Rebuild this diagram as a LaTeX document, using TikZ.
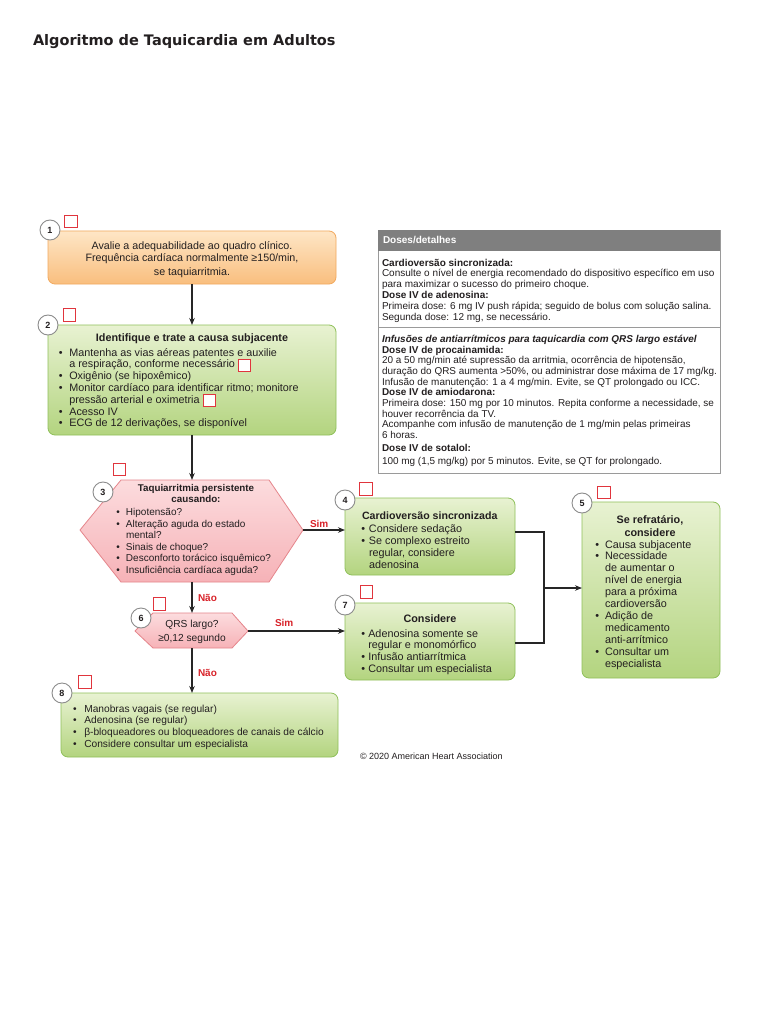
\documentclass[tikz,border=0pt]{standalone}
\usepackage{fontspec}
\setmainfont{Liberation Sans}
\newfontfamily\titlefont{DejaVu Sans}
\usetikzlibrary{arrows.meta}
\definecolor{orTop}{HTML}{FEE6C6}
\definecolor{orBot}{HTML}{F9BE7E}
\definecolor{orBd}{HTML}{F2A95E}
\definecolor{grTop}{HTML}{E8F2D2}
\definecolor{grBot}{HTML}{B3D47F}
\definecolor{grBd}{HTML}{8FC05A}
\definecolor{pkTop}{HTML}{FCDCDE}
\definecolor{pkBot}{HTML}{F6B2B7}
\definecolor{pkBd}{HTML}{E5858B}
\definecolor{sqred}{HTML}{E0353D}
\definecolor{labred}{HTML}{D8232A}
\definecolor{hdgrey}{HTML}{7F7F7F}
\definecolor{frgrey}{HTML}{9A9A9A}
\definecolor{txtc}{HTML}{231F20}
\newlength\bw
\newcommand\bl{\makebox[\bw][l]{•}}
\newcommand\nb{\hspace*{\bw}}
\newcommand\redsq{\smash{\raisebox{-3pt}{\setlength\fboxsep{0pt}\setlength\fboxrule{1pt}\fcolorbox{sqred}{white}{\rule{0pt}{11pt}\rule{11pt}{0pt}}}}}
\newcommand\fs[2]{\fontsize{#1}{#2}\selectfont}
\begin{document}
\begin{tikzpicture}[x=1pt,y=-1pt,
  every node/.style={inner sep=0pt,outer sep=0pt,text=txtc},
  boxbase/.style={draw,rounded corners=7pt,line width=0.8pt},
  obox/.style={boxbase,draw=orBd,top color=orTop,bottom color=orBot},
  gbox/.style={boxbase,draw=grBd,top color=grTop,bottom color=grBot},
  hexa/.style={draw=pkBd,line width=0.8pt,top color=pkTop,bottom color=pkBot,line join=round},
  num/.style={circle,draw=black!45,fill=white,line width=0.9pt,minimum size=20pt,font=\bfseries\fs{9}{9}},
  rsq/.style={draw=sqred,fill=white,line width=1pt,minimum size=12.5pt},
  conn/.style={line width=1.1pt,draw=black!85},
  arr/.style={conn,-{Stealth[length=7pt,width=5.5pt]}},
  lab/.style={text=labred,font=\bfseries\fs{10}{10},anchor=base west},
  tb/.style={anchor=base west},
  tc/.style={anchor=base}]
\fill[white] (0,0) rectangle (768,1024);
\useasboundingbox (0,0) rectangle (768,1024);

% title
\node[tb,font=\titlefont\bfseries\fs{14.5}{16}] (title) at (33,45.5) {Algoritmo de Taquicardia em Adultos};

% boxes
\node[obox,minimum width=288pt,minimum height=53pt,anchor=north west] (b1) at (48,231) {};
\node[gbox,minimum width=288pt,minimum height=110pt,anchor=north west] (b2) at (48,325) {};
\path[hexa] (80,530) -- (121,480) -- (269,480) -- (303,530) -- (269,582) -- (121,582) -- cycle;
\path[hexa] (135,631) -- (153,613) -- (232,613) -- (248,631) -- (232,648) -- (153,648) -- cycle;
\coordinate (h3t) at (192,480);
\coordinate (h3r) at (303,530);
\coordinate (h3b) at (192,582);
\coordinate (h6t) at (192,613);
\coordinate (h6r) at (248,631);
\coordinate (h6b) at (192,648);
\node[gbox,minimum width=170pt,minimum height=77pt,anchor=north west] (b4) at (345,498) {};
\node[gbox,minimum width=170pt,minimum height=77pt,anchor=north west] (b7) at (345,603) {};
\node[gbox,minimum width=138pt,minimum height=176pt,anchor=north west] (b5) at (582,502) {};
\node[gbox,minimum width=277pt,minimum height=64pt,anchor=north west] (b8) at (61,693) {};

% doses box
\node[draw=frgrey,line width=0.8pt,minimum width=342pt,minimum height=243pt,anchor=north west] (db) at (378,230) {};
\node[fill=hdgrey,minimum width=342pt,minimum height=21pt,anchor=north west] (dh) at (378,230) {};
\node[tb,text=white,font=\bfseries\fs{10}{12}] (dht) at (383,243.5) {Doses/detalhes};
\coordinate (dv) at (378,327.5);
\draw[frgrey,line width=0.8pt] (dv) -- (dv -| db.east);
\node[tb,font=\fs{10}{10.85}] (dt1) at (382,266) {\begin{tabular}[t]{@{}l@{}}
\textbf{Cardioversão sincronizada:}\\
Consulte o nível de energia recomendado do dispositivo específico em uso\\
para maximizar o sucesso do primeiro choque.\\
\textbf{Dose IV de adenosina:}\\
Primeira dose: 6 mg IV push rápida; seguido de bolus com solução salina.\\
Segunda dose: 12 mg, se necessário.
\end{tabular}};
\node[tb,font=\fs{9.95}{10.7}] (dt2) at (382,342.3) {\begin{tabular}[t]{@{}l@{}}
\textbf{\textit{Infusões de antiarrítmicos para taquicardia com QRS largo estável}}\\
\textbf{Dose IV de procainamida:}\\
20 a 50 mg/min até supressão da arritmia, ocorrência de hipotensão,\\
duração do QRS aumenta >50\%, ou administrar dose máxima de 17 mg/kg.\\
Infusão de manutenção: 1 a 4 mg/min. Evite, se QT prolongado ou ICC.\\
\textbf{Dose IV de amiodarona:}\\
Primeira dose: 150 mg por 10 minutos. Repita conforme a necessidade, se\\
houver recorrência da TV.\\
Acompanhe com infusão de manutenção de 1 mg/min pelas primeiras\\
6 horas.
\end{tabular}};
\node[tb,font=\fs{9.95}{13}] (dt3) at (382,451.5) {\begin{tabular}[t]{@{}l@{}}
\textbf{Dose IV de sotalol:}\\
100 mg (1,5 mg/kg) por 5 minutos. Evite, se QT for prolongado.
\end{tabular}};

% box texts
\node[tc,font=\fs{10.7}{13}] (t1) at (192,249) {\begin{tabular}[t]{@{}c@{}}
Avalie a adequabilidade ao quadro clínico.\\
Frequência cardíaca normalmente ≥150/min,\\
se taquiarritmia.
\end{tabular}};

\node[tc,font=\bfseries\fs{10.8}{12}] (t2h) at (192,341) {Identifique e trate a causa subjacente};
\node[tb,font=\fs{10.8}{11.8}] (t2) at (58.8,356) {\setlength\bw{10.5pt}\begin{tabular}[t]{@{}l@{}}
\bl Mantenha as vias aéreas patentes e auxilie\\
\nb a respiração, conforme necessário \redsq\\
\bl Oxigênio (se hipoxêmico)\\
\bl Monitor cardíaco para identificar ritmo; monitore\\
\nb pressão arterial e oximetria \redsq\\
\bl Acesso IV\\
\bl ECG de 12 derivações, se disponível
\end{tabular}};

\node[tc,font=\bfseries\fs{9.8}{11}] (t3h) at (196,491.5) {\begin{tabular}[t]{@{}c@{}}
Taquiarritmia persistente\\ causando:
\end{tabular}};
\node[tb,font=\fs{10}{11.5}] (t3) at (116.4,515.5) {\setlength\bw{9.6pt}\begin{tabular}[t]{@{}l@{}}
\bl Hipotensão?\\
\bl Alteração aguda do estado\\
\nb mental?\\
\bl Sinais de choque?\\
\bl Desconforto torácico isquêmico?\\
\bl Insuficiência cardíaca aguda?
\end{tabular}};

\node[tb,font=\bfseries\fs{10.6}{12}] (t4h) at (362,519) {Cardioversão sincronizada};
\node[tb,font=\fs{10.8}{12.2}] (t4) at (361.4,532) {\setlength\bw{7.6pt}\begin{tabular}[t]{@{}l@{}}
\bl Considere sedação\\
\bl Se complexo estreito\\
\nb regular, considere\\
\nb adenosina
\end{tabular}};

\node[tc,font=\bfseries\fs{10.8}{12}] (t7h) at (430,622) {Considere};
\node[tb,font=\fs{10.8}{11.7}] (t7) at (361.4,637) {\setlength\bw{6.9pt}\begin{tabular}[t]{@{}l@{}}
\bl Adenosina somente se\\
\nb regular e monomórfico\\
\bl Infusão antiarrítmica\\
\bl Consultar um especialista
\end{tabular}};

\node[tc,font=\bfseries\fs{10.8}{13}] (t5h) at (650,523) {\begin{tabular}[t]{@{}c@{}}
Se refratário,\\ considere
\end{tabular}};
\node[tb,font=\fs{10.8}{11.9}] (t5) at (595.4,548) {\setlength\bw{9.6pt}\begin{tabular}[t]{@{}l@{}}
\bl Causa subjacente\\
\bl Necessidade\\
\nb de aumentar o\\
\nb nível de energia\\
\nb para a próxima\\
\nb cardioversão\\
\bl Adição de\\
\nb medicamento\\
\nb anti-arrítmico\\
\bl Consultar um\\
\nb especialista
\end{tabular}};

\node[tc,font=\fs{10.2}{14}] (t6) at (192,627) {\begin{tabular}[t]{@{}c@{}}
QRS largo?\\ ≥0,12 segundo
\end{tabular}};

\node[tb,font=\fs{10.2}{11.8}] (t8) at (73.1,712) {\setlength\bw{11.2pt}\begin{tabular}[t]{@{}l@{}}
\bl Manobras vagais (se regular)\\
\bl Adenosina (se regular)\\
\bl β-bloqueadores ou bloqueadores de canais de cálcio\\
\bl Considere consultar um especialista
\end{tabular}};

\node[tb,font=\fs{9}{11}] (copy) at (360,759) {© 2020 American Heart Association};

% connectors
\draw[arr] (b1.south) -- (b2.north);
\draw[arr] (b2.south) -- (h3t);
\draw[arr] (h3b) -- (h6t);
\draw[arr] (h6b) -- (h6b |- b8.north);
\draw[arr] (h3r) -- (h3r -| b4.west);
\draw[arr] (h6r) -- (h6r -| b7.west);
\coordinate (j4) at (544,532);
\coordinate (j7) at (544,643);
\coordinate (jn) at (544,588);
\draw[conn] (j4 -| b4.east) -- (j4) -- (j7) -- (j7 -| b7.east);
\draw[arr] (jn) -- (jn -| b5.west);

% labels
\node[lab] (sim1) at (310,527) {Sim};
\node[lab] (nao1) at (198,601) {Não};
\node[lab] (sim2) at (275,626) {Sim};
\node[lab] (nao2) at (198,676) {Não};

% number circles
\node[num] (n1) at (50,230) {1};
\node[num] (n2) at (48,325) {2};
\node[num] (n3) at (103,492) {3};
\node[num] (n4) at (345,500) {4};
\node[num] (n7) at (345,605) {7};
\node[num] (n5) at (582,503) {5};
\node[num] (n6) at (141,618) {6};
\node[num] (n8) at (62,693) {8};

% red squares
\node[rsq] (s1) at (71,221.5) {};
\node[rsq] (s2) at (69.5,315) {};
\node[rsq] (s3) at (119.5,469.5) {};
\node[rsq] (s4) at (366,489) {};
\node[rsq] (s7) at (366.5,592) {};
\node[rsq] (s5) at (604,492.5) {};
\node[rsq] (s6) at (159.5,604) {};
\node[rsq] (s8) at (85,682) {};
\end{tikzpicture}
\end{document}
